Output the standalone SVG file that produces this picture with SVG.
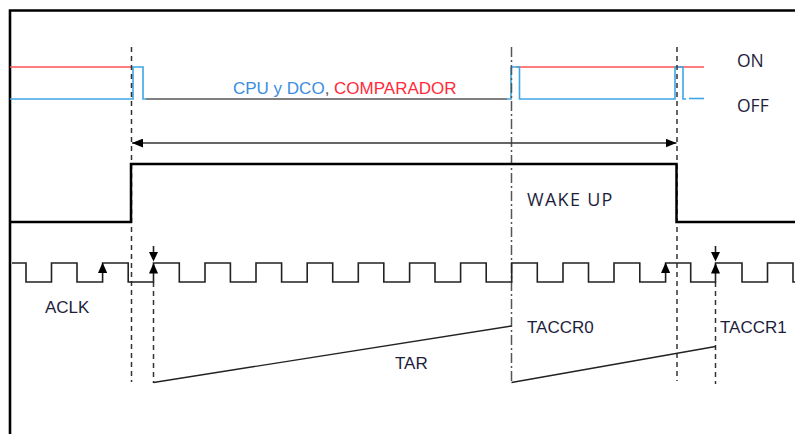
<svg xmlns="http://www.w3.org/2000/svg" width="795" height="434" viewBox="0 0 795 434">
<defs>
<style>
.frame{fill:none;stroke:#000;stroke-width:2.6}
.red{fill:none;stroke:#ff5252;stroke-width:1.6}
.blue{fill:none;stroke:#3fa6e6;stroke-width:1.6}
.gray{fill:none;stroke:#555;stroke-width:1.6}
.wake{fill:none;stroke:#000;stroke-width:2.5}
.clk{fill:none;stroke:#222;stroke-width:1.6}
.ramp{fill:none;stroke:#222;stroke-width:1.4}
.dash{fill:none;stroke:#333;stroke-width:1.5;stroke-dasharray:5 4}
.dashdot{fill:none;stroke:#555;stroke-width:1.5;stroke-dasharray:10 3 2 3}
.arrline{fill:none;stroke:#333;stroke-width:1.5}
.tri{fill:#000}
.lbl{font-family:"Liberation Sans",Arial,sans-serif;font-size:17px;fill:#1e1e3c}
.lbl2{font-family:"Open Sans","Liberation Sans",sans-serif;font-size:17.5px;fill:#1e1e3c}
</style>
<marker id="arr" viewBox="0 0 10 8" refX="10" refY="4" markerWidth="11" markerHeight="9" markerUnits="userSpaceOnUse" orient="auto-start-reverse">
<path d="M0,0 L10,4 L0,8 z" fill="#000"/>
</marker>
</defs>
<rect width="795" height="434" fill="#fff"/>
<g id="frame">
<path class="frame" d="M10,434 V10.5 H795"/>
</g>
<g id="power">
<path class="red" d="M10,67 H131"/>
<path class="red" d="M516,67 H704"/>
<path class="blue" d="M10,99 H133 V67 H143 V99 H146"/>
<path class="gray" d="M146,99 H507"/>
<path class="blue" d="M507,99 H511 V67 H519.5 V99 H675 V67 H683 V99 H686"/>
<path class="blue" d="M689,98.5 H704"/>
</g>
<g id="guides">
<path class="dash" d="M131.5,47 V382"/>
<path class="dash" d="M153.5,282 V383"/>
<path class="dashdot" d="M511.5,47 V383"/>
<path class="dash" d="M677,47 V381"/>
<path class="dash" d="M715.5,282 V384"/>
</g>
<g id="connectors">
<path class="arrline" d="M132,143 H676.5" marker-start="url(#arr)" marker-end="url(#arr)"/>
</g>
<g id="wake">
<path class="wake" d="M10,222 H131 V164 H676.5 V222 H795"/>
</g>
<g id="aclk">
<path class="clk" d="M12,263 H26 V282 H51.5 V263 H77 V282 H102.6 V263 H128.2 V282 H153.5 V263 H179.3 V282 H205 V263 H230.4 V282 H256 V263 H281.6 V282 H307.2 V263 H332.7 V282 H358.3 V263 H383.8 V282 H409.6 V263 H435 V282 H460.6 V263 H486.2 V282 H511.7 V263 H537.3 V282 H563 V263 H588.5 V282 H614 V263 H639.8 V282 H665.6 V263 H690.7 V282 H715.5 V263 H742 V282 H767.5 V263 H793 V282 H795"/>
<polygon class="tri" points="102.6,262.5 98,273 107.2,273"/>
<polygon class="tri" points="665.6,262.5 661,273 670.2,273"/>
<path class="clk" d="M153.5,246 V253"/>
<polygon class="tri" points="149,252 158,252 153.5,261.5"/>
<polygon class="tri" points="153.5,263 149,273.5 158,273.5"/>
<path class="clk" d="M715.5,246 V253"/>
<polygon class="tri" points="711,252 720,252 715.5,261.5"/>
<polygon class="tri" points="715.5,263 711,273.5 720,273.5"/>
</g>
<g id="tar">
<path class="ramp" d="M153.5,382.5 L511.5,326"/>
<path class="ramp" d="M511.5,382.5 L715.5,346.5"/>
</g>
<g id="labels">
<text x="233" y="94" class="lbl"><tspan fill="#3b8de0">CPU y DCO</tspan><tspan fill="#555">, </tspan><tspan fill="#ff2a3a">COMPARADOR</tspan></text>
<text x="737" y="66.5" class="lbl2">ON</text>
<text x="737" y="111.5" class="lbl2">OFF</text>
<text x="527" y="205.5" class="lbl2" style="font-size:18px;letter-spacing:1.3px">WAKE UP</text>
<text x="45" y="312.5" class="lbl">ACLK</text>
<text x="527" y="333" class="lbl">TACCR0</text>
<text x="720" y="333" class="lbl">TACCR1</text>
<text x="395" y="369" class="lbl">TAR</text>
</g>
</svg>
